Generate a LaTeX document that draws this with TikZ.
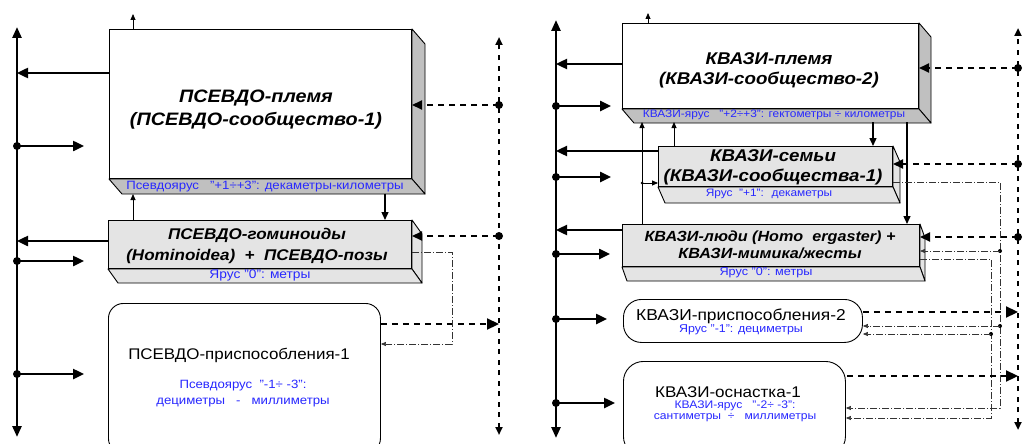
\documentclass[tikz,border=0pt]{standalone}
\usepackage{fontspec}
\setmainfont{Liberation Sans}[FakeStretch=1.1]
\usetikzlibrary{arrows.meta,calc}
\definecolor{lvlblue}{RGB}{40,40,255}
\definecolor{darkface}{RGB}{192,192,192}
\definecolor{lightface}{RGB}{228,228,228}
\newcommand{\mkfaces}[4]{%
  \filldraw[face,fill=#4] (#1.north east) -- ++(#2,#3) -- ($(#1.south east)+(#2,#3)$) -- (#1.south east) -- cycle;
  \filldraw[face,fill=#4] (#1.south west) -- (#1.south east) -- ++(#2,#3) -- ($(#1.south west)+(#2,#3)$) -- cycle;
}
\begin{document}
\begin{tikzpicture}[x=1pt,y=-1pt,
  box/.style={draw=black, line width=1pt, inner sep=0pt, anchor=north west},
  rbox/.style={draw=black, line width=0.9pt, inner sep=0pt, anchor=north west, rounded corners=#1},
  face/.style={draw=black, line width=0.9pt, line join=round},
  ttl/.style 2 args={font=\fontsize{#1}{#2}\selectfont\bfseries\itshape, align=center, inner sep=0pt},
  ptxt/.style={font=\fontsize{#1}{#1}\selectfont, inner sep=0pt, anchor=base},
  lvl/.style 2 args={font=\fontsize{#1}{#2}\selectfont, text=lvlblue, align=center, inner sep=0pt},
  bus/.style={line width=2.5pt, {Triangle[length=11pt,width=9pt]}-{Triangle[length=11pt,width=9pt]}},
  busarr/.style={line width=2.4pt, -{Triangle[length=11pt,width=10pt]}},
  dotbus/.style={line width=2.5pt, dash pattern=on 5pt off 5.5pt, {Triangle[length=8pt,width=7pt]}-{Triangle[length=8pt,width=7pt]}},
  dasharr/.style={line width=2.2pt, dash pattern=on 6pt off 5pt, -{Triangle[length=10pt,width=9pt]}},
  dashbig/.style={line width=2.2pt, dash pattern=on 6pt off 5pt, -{Triangle[length=12pt,width=11pt]}},
  thinarr/.style={line width=0.8pt, -{Triangle[length=6pt,width=5pt]}},
  medarr/.style={line width=1.4pt, -{Triangle[length=8pt,width=7pt]}},
  dd/.style={line width=0.6pt, draw=black!80, dash pattern=on 7pt off 2pt on 1pt off 2pt},
  ddarr/.style={dd, -{Triangle[length=5pt,width=4pt]}},
  bdot/.style={circle, fill=black, inner sep=0pt, minimum size=8pt},
  sdot/.style={circle, fill=black, inner sep=0pt, minimum size=4pt},
]
\clip (0,0) rectangle (1025,444);
\fill[white] (0,0) rectangle (1025,444);

%================ LEFT PANEL ================
\coordinate (LBt) at (17,27);
\coordinate (LBb) at (17,437);
\coordinate (RBt) at (499,37);
\coordinate (RBb) at (499,435);

% boxes
\node[box, fill=white, minimum width=302, minimum height=149] (b1) at (109,29) {};
\mkfaces{b1}{13}{15}{darkface}
\node[ttl={18}{23}] (t1) at (256,110) {ПСЕВДО-племя\\(ПСЕВДО-сообщество-1)};
\node[lvl={12}{13}] (l1) at (265,186.5) {Псевдоярус \ \ "+1÷+3": декаметры-километры};

\node[box, fill=lightface, minimum width=303, minimum height=48] (b2) at (108,220) {};
\mkfaces{b2}{10}{14}{lightface}
\node[ttl={15.5}{21}] (t2) at (257,245.5) {ПСЕВДО-гоминоиды\\(Hominoidea) \ + \ ПСЕВДО-позы};
\node[lvl={12.5}{13}] (l2) at (260,275) {Ярус "0": метры};

\node[rbox=15, fill=white, minimum width=272, minimum height=150] (b3) at (108,303) {};
\node[ptxt=15.4] (t3) at (239,359) {ПСЕВДО-приспособления-1};
\node[lvl={12}{16}] (l3) at (243,393.5) {Псевдоярус \ "-1÷ -3":\\дециметры \ \ - \ \ миллиметры};

% buses
\draw[bus] (LBb) -- (LBt);
\draw[dotbus] (RBb) -- (RBt);

% box -> left bus
\draw[busarr] (b1.west |- 0,73) -- (LBt |- 0,73);
\draw[busarr] (b2.west |- 0,241) -- (LBt |- 0,241);
\foreach \i/\y in {1/146,2/261,3/374}{
  \node[bdot] (dL\i) at (17,\y) {};
  \coordinate (eL\i) at (84,\y);
  \draw[busarr] (dL\i.center) -- (eL\i);
}

% top and inter-box arrows
\coordinate (topL) at (133,14);
\draw[thinarr] (b1.north west -| 133,0) -- (topL);
\draw[thinarr] (b2.north west -| 133,0) -- (133,194);
\draw[medarr] (385,193.5) -- (b2.north west -| 385,0);

% right dotted bus -> boxes
\node[bdot] (dR1) at (499,105) {};
\draw[dasharr] (dR1.center) -- (b1.east |- dR1);
\node[bdot] (dR2) at (499,236) {};
\draw[dasharr] (dR2.center) -- (b2.east |- dR2);
\draw[dashbig] (b3.east |- 0,324) -- (RBt |- 0,324);

% dash-dot feedback
\draw[ddarr] (b2.east |- 0,252) -- (452,252) -- (452,344) -- (b3.east |- 0,344);

%================ RIGHT PANEL ================
\coordinate (LB2t) at (556,20);
\coordinate (LB2b) at (556,438);
\coordinate (RB2t) at (1018,28);
\coordinate (RB2b) at (1018,430);

\node[box, fill=white, minimum width=296, minimum height=85] (c1) at (622,23) {};
\mkfaces{c1}{12}{14}{darkface}
\node[ttl={17}{20}] (s1) at (769,70.6) {КВАЗИ-племя\\(КВАЗИ-сообщество-2)};
\node[lvl={10.8}{13}] (m1) at (774,115) {КВАЗИ-ярус \ \ "+2÷+3": гектометры ÷ километры};

\node[box, fill=lightface, minimum width=234, minimum height=40] (c2) at (658,146) {};
\mkfaces{c2}{7}{16}{lightface}
\node[ttl={17}{20}] (s2) at (773,167.6) {КВАЗИ-семьи\\(КВАЗИ-сообщества-1)};
\node[lvl={10.8}{13}] (m2) at (769,194) {Ярус \ "+1": \ декаметры};

\node[box, fill=lightface, minimum width=297, minimum height=42] (c3) at (622,224) {};
\mkfaces{c3}{5}{14}{lightface}
\node[ttl={14.7}{17}] (s3) at (770,245) {КВАЗИ-люди (Homo \ ergaster) +\\КВАЗИ-мимика/жесты};
\node[lvl={11.5}{13}] (m3) at (766,273) {Ярус "0": метры};

\node[rbox=18, fill=white, minimum width=239, minimum height=43] (c4) at (623,299) {};
\node[ptxt=15.8] (s4) at (741,320) {КВАЗИ-приспособления-2};
\node[lvl={11.3}{13}, anchor=base] (m4) at (741,332) {Ярус "-1": дециметры};

\node[rbox=20, fill=white, minimum width=222, minimum height=95] (c5) at (623,361) {};
\node[ptxt=15.5] (s5) at (728,397.5) {КВАЗИ-оснастка-1};
\node[lvl={11}{10.5}, anchor=north] (m5) at (735,400.8) {КВАЗИ-ярус \ \ "-2÷ -3":\\сантиметры \ ÷ \ \ миллиметры};

% buses
\draw[bus] (LB2b) -- (LB2t);
\draw[dotbus] (RB2b) -- (RB2t);

% boxes -> left bus
\draw[busarr] (c1.west |- 0,64) -- (LB2t |- 0,64);
\draw[busarr] (c2.west |- 0,151) -- (LB2t |- 0,151);
\draw[busarr] (c3.west |- 0,230) -- (LB2t |- 0,230);
\foreach \i/\y/\e in {1/106/611,2/177/611,3/254/610,4/319/607,5/403/615}{
  \node[bdot] (dM\i) at (556,\y) {};
  \coordinate (eM\i) at (\e,\y);
  \draw[busarr] (dM\i.center) -- (eM\i);
}

% top arrow and inter-box thin arrows
\coordinate (topR) at (648,13);
\draw[thinarr] (c1.north west -| 648,0) -- (topR);
\draw[thinarr] (c3.north west -| 642,0) -- (642,122);
\node[sdot, minimum size=3pt] (k1) at (642,183) {};
\draw[thinarr] (k1.center) -- (c2.west |- k1);
\draw[thinarr] (c2.north west -| 674,0) -- (674,122);
\draw[medarr] (873,122) -- (c2.north west -| 873,0);
\draw[medarr] (907,122) -- (c3.north west -| 907,0);

% right dotted bus -> boxes
\node[bdot] (dS1) at (1018,68) {};
\draw[dasharr] (dS1.center) -- (c1.east |- dS1);
\node[bdot] (dS2) at (1018,164) {};
\draw[dasharr] (dS2.center) -- (c2.east |- dS2);
\node[bdot] (dS3) at (1018,237) {};
\draw[dasharr] (dS3.center) -- (c3.east |- dS3);
\draw[dashbig] (c4.east |- 0,312) -- (RB2t |- 0,312);
\draw[dashbig] (847,376) -- (RB2t |- 0,376);

% dash-dot feedback lines
\draw[ddarr] (c2.east |- 0,182) -- (1000,182) -- (1000,408) -- (c5.east |- 0,408);
\draw[ddarr] (c3.east |- 0,259) -- (991,259) -- (991,418) -- (c5.east |- 0,418);
\node[sdot] (x1) at (1000,251) {};
\draw[ddarr] (x1.center) -- (c3.east |- x1);
\node[sdot] (x2) at (1000,326) {};
\draw[ddarr] (x2.center) -- (c4.east |- x2);
\node[sdot] (x3) at (991,334) {};
\draw[ddarr] (x3.center) -- (c4.east |- x3);
\end{tikzpicture}
\end{document}
